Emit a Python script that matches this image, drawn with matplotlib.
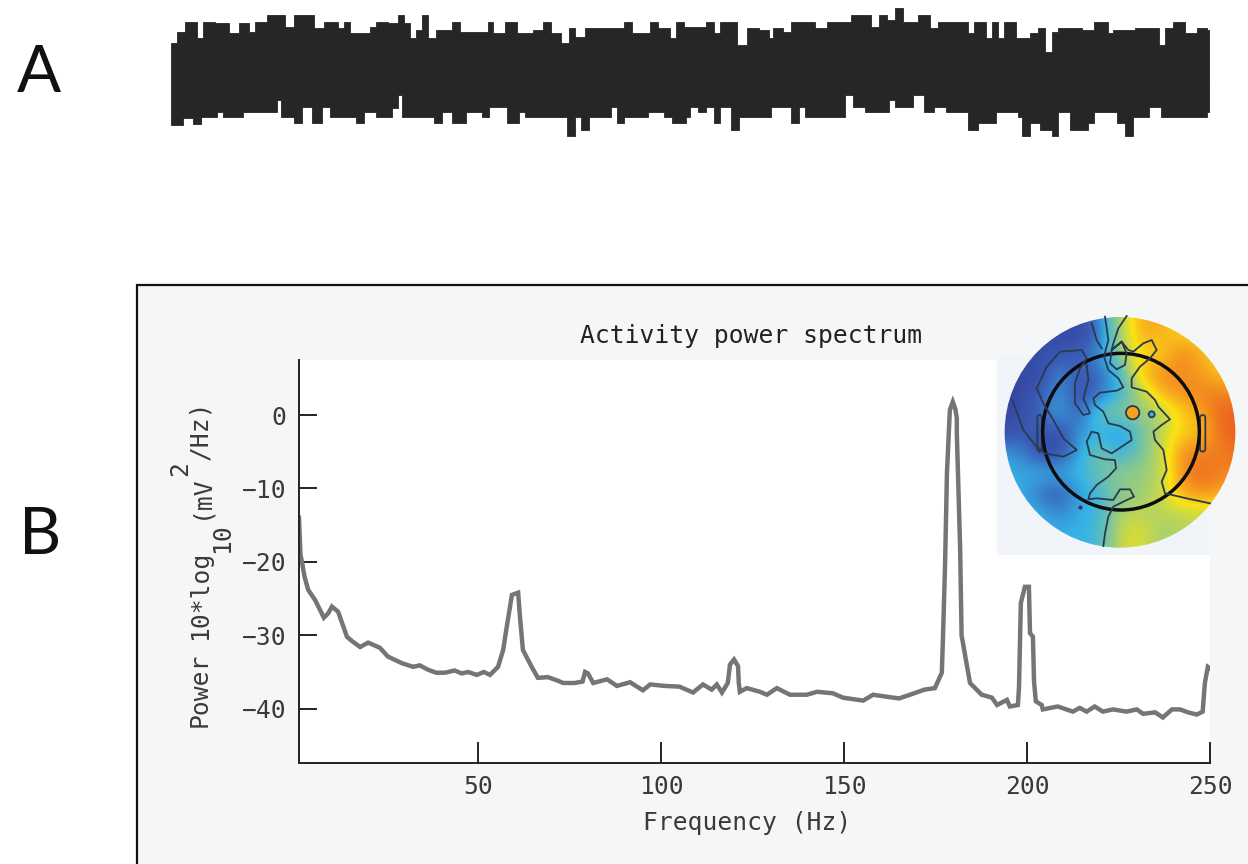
import numpy as np
import matplotlib
matplotlib.use("Agg")
import matplotlib.pyplot as plt
from matplotlib.colors import LinearSegmentedColormap
from matplotlib.patches import Rectangle, Circle, FancyBboxPatch

W, H = 1248, 864

# ---- Panel A: envelope of the recorded trace (picture units)
top_a_x = [430,445,465,495,510,540,575,600,625,640,670,705,715,740,775,790,815,850,865,880,930,945,975,1000,1015,1030,1045,1060,1075,1095,1135,1155,1225,1240,1270,1300,1340,1365,1385,1410,1430,1445,1470,1520,1568]
top_a_y = [130,95,65,115,65,70,100,70,95,65,45,45,80,45,45,85,65,85,65,100,80,65,70,45,70,115,90,45,115,90,65,95,65,100,65,100,90,65,100,130,85,110,85,85,120]
top_b_x = [0,20,65,85,115,130,150,205,225,240,265,285,310,340,365,375,400,420,465,480,510,540,570,600,620,640,660,680,700,740,770,790,855,865,880,900,910,925,940,955,985,1020,1040,1058,1075,1090,1150,1180,1215,1230,1285,1345,1360,1380,1410,1440,1465,1470]
top_b_y = [65,100,65,85,115,65,80,65,100,65,65,135,85,90,115,85,95,65,65,85,65,65,45,45,80,45,60,25,65,45,85,65,65,100,65,65,115,65,115,65,115,100,85,155,95,85,90,65,100,90,85,135,85,65,100,85,90,90]
bot_a_x = [430,460,485,505,545,560,590,610,690,695,705,740,760,785,810,830,895,915,945,985,1000,1010,1050,1090,1110,1135,1170,1210,1230,1250,1275,1305,1320,1425,1445,1460,1480,1520,1535,1550,1568]
bot_a_y = [375,355,372,350,335,350,350,335,335,300,350,370,320,370,320,350,370,335,350,325,285,350,350,370,335,370,335,350,320,320,370,335,350,408,350,390,350,350,320,370,350]
bot_b_x = [0,40,60,100,120,155,165,185,205,225,240,270,290,370,420,440,455,500,545,555,575,605,635,665,680,720,725,745,755,780,810,855,865,890,925,935,990,1000,1020,1045,1075,1090,1120,1165,1180,1240,1260,1280,1320,1350,1465,1470]
bot_b_y = [350,350,335,350,370,350,320,335,320,370,320,390,350,320,370,320,350,350,350,285,320,335,335,300,320,320,285,285,335,320,335,335,390,370,370,335,350,408,370,390,408,335,390,370,335,370,408,350,320,350,335,335]

# ---- Panel B: spectrum
freq = [1,1.4,1.8,2.5,3.5,5.4,7.8,9,10,11.7,14.1,15.5,17.7,19.9,23.1,25.3,29.1,32.2,34,36.3,38.5,40.9,43.5,45.5,47.2,49.6,51.5,53.2,55.4,56.8,57.8,59.2,60.9,61.4,62.2,64.7,66.3,69,71.8,73.2,76.4,78.5,79.2,80,81.4,85.2,87.9,91.5,95,97,101,105,108.7,111.4,113.8,115.2,116.6,118.2,118.8,119.9,121,121.2,121.5,123.4,127,128.9,131.6,135.2,139.8,142.6,146.9,149.7,155.2,157.9,162,165,168,172,174.8,176.7,177,177.6,178.1,178.9,179.7,180.4,180.8,180.8,181.7,182.1,184.4,187.6,190.4,191.8,194.5,195.3,197.5,197.8,198.3,199.4,200.5,200.8,201.6,201.9,202.4,204,204.3,208.4,212.5,214.4,216.3,218.5,220.7,223.5,227.2,230,231.7,235,237.1,239.6,241.8,244,246.4,248,248.6,249.4,250]
power = [-14,-19,-20,-22,-23.8,-25.2,-27.6,-27,-26.1,-26.8,-30.2,-30.8,-31.6,-31,-31.7,-32.9,-33.8,-34.3,-34.1,-34.7,-35.1,-35.1,-34.8,-35.2,-35,-35.4,-35,-35.4,-34.3,-32,-28.8,-24.5,-24.2,-27.5,-32,-34.4,-35.8,-35.7,-36.2,-36.5,-36.5,-36.3,-35,-35.2,-36.5,-36,-36.9,-36.4,-37.5,-36.7,-36.9,-37,-37.8,-36.7,-37.4,-36.7,-37.8,-36.5,-34,-33.3,-34.2,-36.5,-37.7,-37.2,-37.7,-38.1,-37.2,-38.1,-38.1,-37.7,-37.9,-38.5,-38.9,-38.1,-38.4,-38.6,-38.1,-37.4,-37.2,-35.1,-30.6,-20.1,-7.9,0.7,1.8,0.8,-0.4,-2.5,-18,-30,-36.5,-38.1,-38.5,-39.5,-38.8,-39.7,-39.5,-37,-25.6,-23.4,-23.4,-29.7,-30.2,-36.3,-39,-39.5,-40.1,-39.7,-40.4,-39.9,-40.4,-39.7,-40.4,-40.1,-40.4,-40.1,-40.7,-40.5,-41.2,-40.1,-40.1,-40.5,-40.8,-40.4,-36.5,-34.3,-34.5]
x_ticks = [50, 100, 150, 200, 250]
x_tick_labels = ["50", "100", "150", "200", "250"]
y_ticks = [0, -10, -20, -30, -40]
y_tick_labels = ["0", "\u221210", "\u221220", "\u221230", "\u221240"]

# ---- Scalp map: field sampled on a coarse grid, 0 = deep blue, 1 = red
map_x = [60,120,180,240,300,360,420,480,540,600,660,720,780]
map_y = [40,100,160,220,280,340,400,460,520,580,640,700,760]
map_values = [
 [.05,.05,.05,.05,.05,.20,.60,.82,.82,.75,.70,.70,.70],
 [.05,.05,.05,.05,.03,.15,.55,.84,.82,.75,.72,.70,.70],
 [.05,.05,.05,.08,.12,.22,.55,.72,.74,.90,.85,.72,.70],
 [.03,.03,.05,.22,.10,.15,.30,.82,.88,.90,.85,.78,.75],
 [.03,.03,.10,.25,.05,.15,.32,.55,.82,.88,.92,.92,.90],
 [.03,.05,.15,.28,.10,.45,.50,.52,.55,.75,.82,.98,.98],
 [.05,.10,.08,.05,.25,.30,.18,.42,.60,.75,.78,.95,1.0],
 [.25,.22,.05,.05,.28,.48,.30,.45,.60,.88,.92,.92,.95],
 [.30,.28,.30,.30,.32,.42,.52,.52,.58,.86,.97,.92,.90],
 [.30,.30,.15,.08,.26,.35,.48,.52,.62,.82,.90,.85,.75],
 [.30,.30,.30,.20,.30,.32,.58,.60,.58,.60,.62,.60,.60],
 [.30,.30,.30,.30,.30,.35,.62,.68,.54,.58,.60,.60,.60],
 [.30,.30,.30,.30,.30,.35,.62,.68,.54,.58,.60,.60,.60],
]
contour_a_x = [375,385,372,385,415,430,410,360,340,345,370,385,420,450,455,425,395,365,355,335,320,330,375,405,408,385,350,330,325,350,400,420,450,462,430,400,385,375,370]
contour_a_y = [50,120,170,210,235,262,272,278,295,315,335,370,378,395,420,440,460,445,400,395,425,465,478,480,505,530,555,580,598,595,600,568,568,590,605,620,650,700,738]
contour_b_x = [440,415,400,395,390,410,435,440,425,395,425,445,460,490,515,530,510,480,455,455,500,525,535,570,545,520,525,550,560,545,555,620,690]
contour_b_y = [48,85,130,150,190,208,195,160,125,150,125,150,155,130,120,150,175,200,235,262,275,300,320,358,375,395,420,450,510,545,580,595,610]
contour_c_x = [335,350,365]
contour_c_y = [70,120,145]
contour_d_x = [97,130,165,195,250,290,250,220,190,170,200,240,305,320,300,285,285,310,330,310,325,320]
contour_d_y = [300,390,435,460,470,450,415,360,310,265,200,155,150,175,205,250,310,345,340,295,240,195]
map_stops = [0, .12, .30, .50, .62, .72, .85, 1]
map_colours = ["#33409c", "#3a5fb8", "#35b2e6", "#8cc98c", "#c8d84a", "#fbe214", "#f7a01e", "#ea5a1e"]

PANEL = "#f4f6f8"
INSET = "#f1f5fa"
INK = "#3a3a3a"
MONO = "DejaVu Sans Mono"
FS = 17.7

fig = plt.figure(figsize=(W / 100, H / 100), dpi=100, facecolor="white")


def rect(l, t, r, b):
    return [l / W, 1 - b / H, (r - l) / W, (b - t) / H]


def txt(x, y, s, **kw):
    fig.text(x / W, 1 - y / H, s, ha=kw.pop("ha", "center"), va=kw.pop("va", "center"), **kw)


# Background: panel, frame, white plot area
bg = fig.add_axes([0, 0, 1, 1], zorder=0)
bg.set_xlim(0, W)
bg.set_ylim(H, 0)
bg.axis("off")
bg.add_patch(Rectangle((137, 285), W, H, fc=PANEL, ec="#111111", lw=1.6))
bg.add_patch(Rectangle((299, 360), 911, 403, fc="white", ec="none"))
bg.add_patch(Rectangle((997, 355), 213, 200, fc=INSET, ec="none"))

# Panel A
wa = fig.add_axes([0, 0, 1, 1], zorder=1)
wa.set_xlim(0, W)
wa.set_ylim(H, 0)
wa.axis("off")
wa.patch.set_alpha(0)
SCALE_X = 1568 / 624
for xs, ys, off in [(top_a_x, top_a_y, 0), (top_b_x, top_b_y, 624),
                    (bot_a_x, bot_a_y, 0), (bot_b_x, bot_b_y, 624)]:
    xx = off + np.array(xs) / SCALE_X
    yy = np.array(ys) / 3
    wa.fill_between(xx, yy, 80, step="post", color="#262626", lw=0.6)

# Panel B spectrum
ax = fig.add_axes(rect(299, 360, 1210, 763), zorder=2)
ax.patch.set_alpha(0)
ax.plot(freq, power, color="#757575", lw=3.2, solid_joinstyle="miter")
ax.set_xlim(1, 250)
ax.set_ylim(-47.4, 7.5)
ax.set_xticks(x_ticks, x_tick_labels, family=MONO, fontsize=FS, color=INK)
ax.set_yticks(y_ticks, y_tick_labels, family=MONO, fontsize=FS, color=INK, va="center_baseline")
ax.tick_params(axis="x", direction="in", length=15, width=1.4, color="#222222", pad=9)
ax.tick_params(axis="y", direction="in", length=13, width=1.4, color="#222222", pad=9)
for s in ["top", "right"]:
    ax.spines[s].set_visible(False)
for s in ["left", "bottom"]:
    ax.spines[s].set_linewidth(1.4)
    ax.spines[s].set_color("#222222")

txt(751, 336, "Activity power spectrum", family=MONO, fontsize=FS, color="#222222")
txt(747, 823, "Frequency (Hz)", family=MONO, fontsize=FS, color=INK)

# y label pieces
lab = dict(family=MONO, fontsize=FS, color=INK, rotation=90)
txt(200, 690, "Power", **lab)
txt(200, 595, "10*log", **lab)
txt(222, 538, "10", **lab)
txt(200, 497, "(mV", **lab)
txt(180, 469, "2", **lab)
txt(200, 430, "/Hz)", **lab)

txt(39, 74, "A", family="Lato", fontsize=47, color="#111111")
txt(40, 536, "B", family="Lato", fontsize=47, color="#111111")

# Scalp map, in zoom units of the map region
tm = fig.add_axes(rect(980, 300, 1248, 560), zorder=3)
tm.patch.set_alpha(0)
cmap = LinearSegmentedColormap.from_list("scalp", list(zip(map_stops, map_colours)))
im = tm.imshow(np.array(map_values), cmap=cmap, vmin=0, vmax=1, interpolation="bicubic",
               extent=[map_x[0] - 30, map_x[-1] + 30, map_y[-1] + 30, map_y[0] - 30], aspect="auto")
im.set_clip_path(Circle((420, 397), 346, transform=tm.transData))
tm.set_xlim(0, 804)
tm.set_ylim(780, 0)
tm.axis("off")
line = dict(color="#2c3a50", lw=1.3)
for xs, ys in [(contour_a_x, contour_a_y), (contour_b_x, contour_b_y),
               (contour_c_x, contour_c_y), (contour_d_x, contour_d_y)]:
    tm.plot(xs, ys, **line)
tm.add_patch(Circle((458, 338), 20, fc="#f7a01e", ec="#2c3a50", lw=1.3))
tm.add_patch(Circle((515, 343), 9, fc="#35b2e6", ec="#2c3a50", lw=1.3))
tm.plot([300], [620], "o", ms=2, color="#2c3a50")
# head outline and ears
tm.add_patch(FancyBboxPatch((172, 345), 14, 110, boxstyle="round,pad=0,rounding_size=8", fc="none", ec="#2c3a50", lw=1.3))
tm.add_patch(FancyBboxPatch((660, 345), 16, 110, boxstyle="round,pad=0,rounding_size=8", fc="none", ec="#2c3a50", lw=1.3))
tm.add_patch(Circle((423, 395), 235, fc="none", ec="#0d0d10", lw=2.5))

fig.savefig("out.png", dpi=100, facecolor="white")
